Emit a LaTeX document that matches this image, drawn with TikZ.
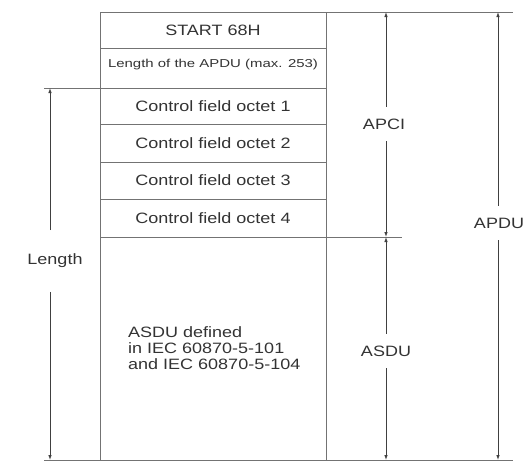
\documentclass[tikz,border=0pt]{standalone}
\usepackage{fontspec}
\setmainfont{Liberation Sans}
\usetikzlibrary{arrows.meta, positioning}

\newcommand{\fieldfont}{\fontsize{15}{17}\selectfont}
\newcommand{\smallfieldfont}{\fontsize{11.5}{14}\selectfont}
\newcommand{\wide}[1]{\scalebox{1.2}[1]{#1}}

\tikzset{
  field/.style={draw=black!55, line width=0.8pt, minimum width=226pt,
    inner sep=0pt, outer sep=0pt, text=black!80, font=\fieldfont},
  dimlabel/.style={text=black!80, font=\fieldfont, inner sep=0pt, outer ysep=12pt},
  dimline/.style={draw=black!75, line width=0.8pt, -{Latex[length=5pt,width=3.5pt]}},
  rule/.style={draw=black!55, line width=0.8pt},
}

\begin{document}
\begin{tikzpicture}[x=1pt, y=-1pt]
    \useasboundingbox (0,0) rectangle (523,472);

    % Frame fields
    \node[field, minimum height=36pt, anchor=north west] (start) at (100,12) {\wide{START 68H}};
    \node[field, minimum height=40pt, below=0pt of start] (len) {\raisebox{9pt}{\smallfieldfont\scalebox{1.3}[1]{Length of the APDU (max. 253)}}};
    \node[field, minimum height=36pt, below=0pt of len] (cf1) {\wide{Control field octet 1}};
    \node[field, minimum height=38pt, below=0pt of cf1] (cf2) {\wide{Control field octet 2}};
    \node[field, minimum height=37pt, below=0pt of cf2] (cf3) {\wide{Control field octet 3}};
    \node[field, minimum height=38pt, below=0pt of cf3] (cf4) {\wide{Control field octet 4}};
    \node[field, minimum height=223pt, below=0pt of cf4] (asdu) {};
    \node[text=black!80, font=\fieldfont, align=left, anchor=west, inner sep=0pt] (asdutext) at (128,348)
        {\wide{ASDU defined}\\[-1pt] \wide{in IEC 60870-5-101}\\[-1pt] \wide{and IEC 60870-5-104}};

    % Reference rules
    \coordinate (apdutop) at (498,12);
    \coordinate (apdubot) at (498,460);
    \coordinate (apcitop) at (386,12);
    \coordinate (apcibot) at (386,237);
    \coordinate (asdubot) at (386,460);
    \coordinate (lentop) at (50,88);
    \coordinate (lenbot) at (50,460);
    \draw[rule] (start.north west) -- (513,12);
    \draw[rule] (44,460) -- (513,460);
    \draw[rule] (44,88) -- (len.south west);
    \draw[rule] (cf4.south east) -- (402,237);
    \draw[rule] (start.north east) -- (asdu.south east);

    % Dimension labels
    \node[dimlabel] (apci) at (384,124) {\wide{APCI}};
    \node[dimlabel] (asdulbl) at (386,351) {\wide{ASDU}};
    \node[dimlabel] (apdu) at (499,223) {\wide{APDU}};
    \node[dimlabel, outer ysep=24pt] (length) at (55,261) {\wide{Length}};

    % Dimension arrows
    \draw[dimline] (apci.north -| apcitop) -- (apcitop);
    \draw[dimline] (apci.south -| apcitop) -- (apcibot);
    \draw[dimline] (asdulbl.north -| apcitop) -- (apcibot);
    \draw[dimline] (asdulbl.south -| apcitop) -- (asdubot);
    \draw[dimline] (apdu.north -| apdutop) -- (apdutop);
    \draw[dimline] (apdu.south -| apdutop) -- (apdubot);
    \draw[dimline] (length.north -| lentop) -- (lentop);
    \draw[dimline] (length.south -| lentop) -- (lenbot);
\end{tikzpicture}
\end{document}
